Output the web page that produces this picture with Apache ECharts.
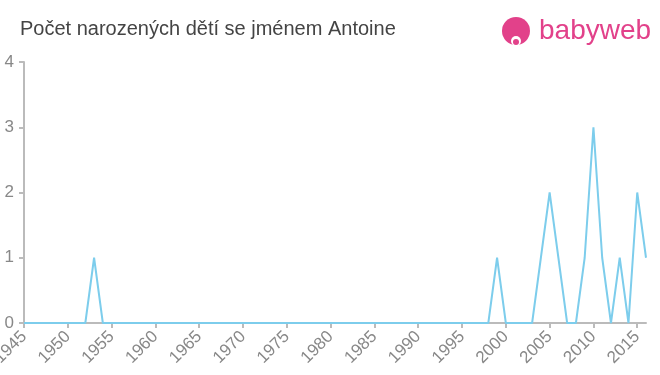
<!DOCTYPE html>
<html><head><meta charset="utf-8">
<script src="https://cdn.jsdelivr.net/npm/echarts@6/dist/echarts.min.js"></script>
<style>html,body{margin:0;padding:0;background:#fff}#c{width:660px;height:375px}</style>
</head><body><div id="c"></div>
<script>
const titleText = 'Počet narozených dětí se jménem Antoine';
const years = [];
for (let y = 1945; y <= 2016; y++) years.push(String(y));
const counts = [
  0,0,0,0,0,0,0,0,1,0, // 1945-1954
  0,0,0,0,0,0,0,0,0,0, // 1955-1964
  0,0,0,0,0,0,0,0,0,0, // 1965-1974
  0,0,0,0,0,0,0,0,0,0, // 1975-1984
  0,0,0,0,0,0,0,0,0,0, // 1985-1994
  0,0,0,0,1,0,0,0,0,1, // 1995-2004
  2,1,0,0,1,3,1,0,1,0, // 2005-2014
  2,1                  // 2015-2016
];
const yTicks = [0,1,2,3,4];
const chart = echarts.init(document.getElementById('c'));
chart.setOption({
  animation: false,
  title: {text: titleText, left: 15, top: 14, textStyle: {fontFamily: 'Liberation Sans, Arial, sans-serif', fontSize: 20, fontWeight: 'normal', color: '#444'}},
  grid: {left: 24, right: 14, top: 62, bottom: 52, outerBoundsMode: 'none', containLabel: false},
  xAxis: {
    type: 'category', data: years, boundaryGap: false,
    axisLine: {lineStyle: {color: '#bbb', width: 2}},
    axisTick: {interval: (i, v) => (+v) % 5 === 0, length: 5, lineStyle: {color: '#bbb', width: 2}},
    axisLabel: {interval: (i, v) => (+v) % 5 === 0, rotate: 45, color: '#888', fontSize: 17, fontFamily: 'Liberation Sans, Arial, sans-serif', margin: 11}
  },
  yAxis: {
    type: 'value', min: 0, max: 4, interval: 1,
    axisLine: {show: true, lineStyle: {color: '#bbb', width: 2}},
    axisTick: {show: true, length: 5, lineStyle: {color: '#bbb', width: 2}},
    splitLine: {show: false},
    axisLabel: {color: '#888', fontSize: 17, fontFamily: 'Liberation Sans, Arial, sans-serif', margin: 10, formatter: v => yTicks.includes(v) ? String(v) : ''}
  },
  series: [{type: 'line', data: counts, symbol: 'none', lineStyle: {color: '#7dcdec', width: 2}, itemStyle: {color: '#7dcdec'}}],
  graphic: [
    {type: 'circle', shape: {cx: 516, cy: 31, r: 14}, style: {fill: '#e2418a'}},
    {type: 'circle', shape: {cx: 516, cy: 41, r: 5}, style: {fill: '#fff'}},
    {type: 'circle', shape: {cx: 516, cy: 42, r: 3}, style: {fill: '#e2418a'}},
    {type: 'text', left: 539, top: 17, style: {text: 'babyweb', fill: '#e2418a', fontSize: 28, fontFamily: 'Liberation Sans, Arial, sans-serif'}}
  ]
});
</script></body></html>
